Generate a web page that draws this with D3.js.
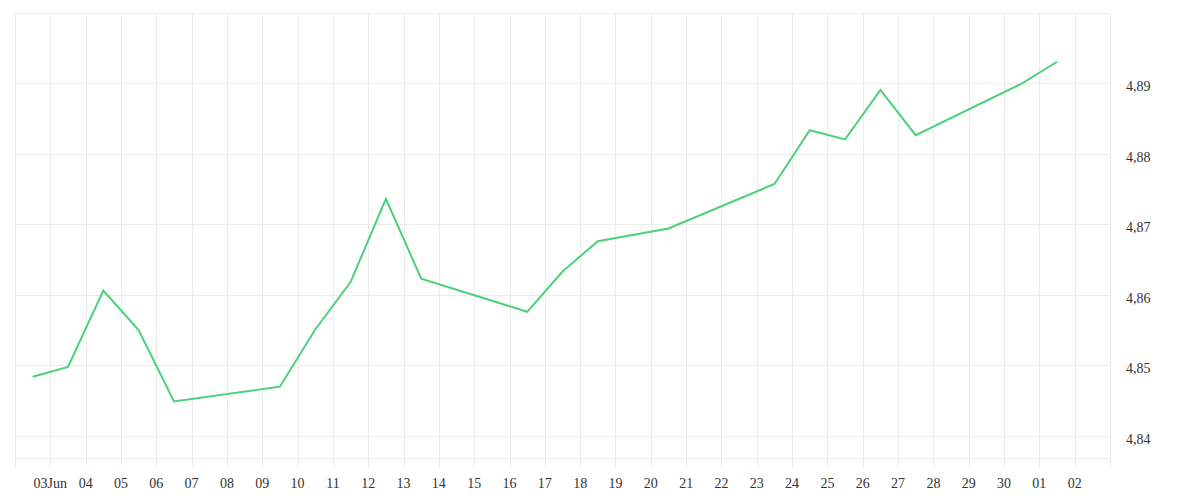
<!DOCTYPE html>
<html>
<head>
<meta charset="utf-8">
<script src="https://cdn.jsdelivr.net/npm/d3@7"></script>
<style>
  html, body { margin: 0; padding: 0; background: #fff; }
  svg { display: block; }
  text { font-family: "Liberation Serif", "Times New Roman", serif; font-size: 14px; fill: #333; }
</style>
</head>
<body>
<svg id="chart" width="1200" height="500"></svg>
<script>
// ---- data ----
const dates = [
  "2024-06-02T12:00", "2024-06-03T12:00", "2024-06-04T12:00", "2024-06-05T12:00", "2024-06-06T12:00",
  "2024-06-09T12:00", "2024-06-10T12:00", "2024-06-11T12:00", "2024-06-12T12:00", "2024-06-13T12:00",
  "2024-06-16T12:00", "2024-06-17T12:00", "2024-06-18T12:00", "2024-06-20T12:00",
  "2024-06-23T12:00", "2024-06-24T12:00", "2024-06-25T12:00", "2024-06-26T12:00", "2024-06-27T12:00",
  "2024-06-30T12:00", "2024-07-01T12:00"
];
const values = [
  4.8484, 4.8498, 4.8606, 4.8550, 4.8449,
  4.8470, 4.8551, 4.8618, 4.8736, 4.8623,
  4.8576, 4.8633, 4.8676, 4.8694,
  4.8757, 4.8833, 4.8820, 4.8890, 4.8826,
  4.8899, 4.8930
];
const yTicks = [4.84, 4.85, 4.86, 4.87, 4.88, 4.89];
const yTickLabels = ["4,84", "4,85", "4,86", "4,87", "4,88", "4,89"];
const xTickLabels = ["03Jun", "04", "05", "06", "07", "08", "09", "10", "11", "12", "13", "14", "15", "16",
  "17", "18", "19", "20", "21", "22", "23", "24", "25", "26", "27", "28", "29", "30", "01", "02"];
const xStart = "2024-06-02T00:00";
const xEnd = "2024-07-03T00:00";
const yDomain = [4.8369, 4.8999];

// ---- chart ----
const parse = d3.utcParse("%Y-%m-%dT%H:%M");
const svg = d3.select("#chart");
const mLeft = 15, mRight = 1110, mTop = 13, mBottom = 458;

const x = d3.scaleUtc().domain([parse(xStart), parse(xEnd)]).range([mLeft, mRight]);
const y = d3.scaleLinear().domain(yDomain).range([mBottom, mTop]);

const gridColor = "#ececec";
const days = d3.utcDay.range(parse(xStart), d3.utcDay.offset(parse(xEnd), 1));

// vertical grid lines with ticks extending below
svg.append("g").selectAll("line").data(days).join("line")
  .attr("x1", d => Math.round(x(d)) + 0.5).attr("x2", d => Math.round(x(d)) + 0.5)
  .attr("y1", mTop).attr("y2", mBottom + 10)
  .attr("stroke", gridColor).attr("stroke-width", 1);

// horizontal grid lines
const hLines = [mTop, mBottom].concat(yTicks.map(v => y(v)));
svg.append("g").selectAll("line").data(hLines).join("line")
  .attr("x1", mLeft).attr("x2", mRight + 1)
  .attr("y1", d => Math.round(d) + 0.5).attr("y2", d => Math.round(d) + 0.5)
  .attr("stroke", gridColor).attr("stroke-width", 1);

// x labels (03 Jun .. 02 Jul)
const labelDays = days.slice(1, 1 + xTickLabels.length);
svg.append("g").selectAll("text").data(labelDays).join("text")
  .attr("x", d => x(d)).attr("y", 488)
  .attr("text-anchor", "middle")
  .text((d, i) => xTickLabels[i]);

// y labels
svg.append("g").selectAll("text").data(yTicks).join("text")
  .attr("x", 1126).attr("y", d => y(d) + 8)
  .attr("text-anchor", "start")
  .text((d, i) => yTickLabels[i]);

// line
const pts = dates.map((d, i) => ({ t: parse(d), v: values[i] }));
svg.append("path").datum(pts)
  .attr("fill", "none")
  .attr("stroke", "#4bd17c")
  .attr("stroke-width", 2)
  .attr("stroke-linejoin", "miter")
  .attr("d", d3.line().x(d => x(d.t)).y(d => y(d.v)));
</script>
</body>
</html>
